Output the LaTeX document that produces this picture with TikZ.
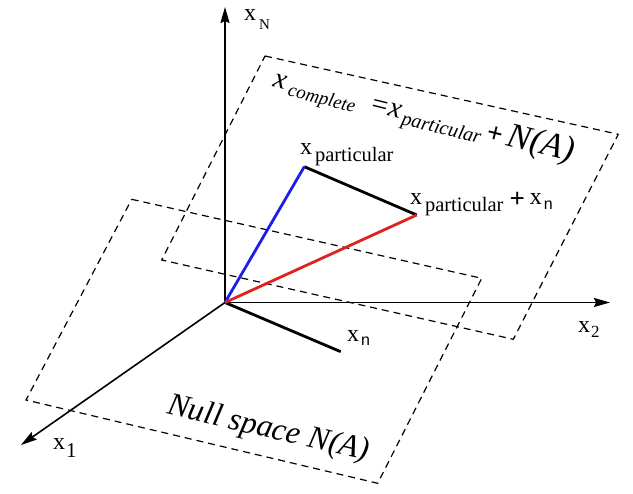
\documentclass[tikz,border=0pt]{standalone}
\usepackage{fontspec}
\setmainfont{Liberation Serif}
\newfontfamily\serf{Liberation Serif}
\newfontfamily\sansf{Liberation Sans}
\usetikzlibrary{arrows.meta}
\definecolor{vblue}{RGB}{30,30,235}
\definecolor{vred}{RGB}{220,35,30}
\newcommand\fs[1]{\fontsize{#1}{#1}\selectfont}
\begin{document}
\begin{tikzpicture}[x=1pt,y=-1pt,
  axis/.style={line width=1.6pt,-{Stealth[length=16pt,width=9pt,inset=2pt]}},
  plane/.style={line width=1.2pt,dash pattern=on 7pt off 5pt,line join=miter},
  vec/.style={line width=2.8pt},
  lab/.style={anchor=base west,inner sep=0pt,outer sep=0pt,font=\serf}]
\useasboundingbox (0,0) rectangle (633,494);
% origin and axis tips
\coordinate (O) at (225,302.5);
\coordinate (tN) at (225,7);
\coordinate (t2) at (610,302.5);
\coordinate (t1) at (21,445);
% null space plane
\coordinate (A) at (131.7,199.3);
\coordinate (B) at (481.7,278.3);
\coordinate (C) at (377.7,483.3);
\coordinate (D) at (26,400);
% shifted plane
\coordinate (E) at (265,56);
\coordinate (F) at (618.3,134.3);
\coordinate (G) at (513.3,339.3);
\coordinate (H) at (161.7,260);
% vectors
\coordinate (P) at (304.3,166.7);
\coordinate (Q) at (416.7,215);
\coordinate (Nn) at (340.7,351.7);
\draw[plane] (A) -- (B) -- (C) -- (D) -- cycle;
\draw[plane] (E) -- (F) -- (G) -- (H) -- cycle;
\draw[axis] (O) -- (tN);
\draw[axis] (O) -- (t2);
\draw[axis] (O) -- (t1);
\draw[vec] (O) -- (Nn);
\draw[vec] (P) -- (Q);
\draw[vec,vblue] (O) -- (P);
\draw[vec,vred] (O) -- (Q);
% labels
\node[lab] (xN) at (244,21) {\fs{24}x\kern3pt\raisebox{-9pt}{\fs{15}N}};
\node[lab] (xn) at (347,342) {\fs{24}x\kern2pt\raisebox{-4pt}{\sansf\fs{16}n}};
\node[lab] (x1) at (53,450) {\fs{24}x\kern1pt\raisebox{-8pt}{\fs{21}1}};
\node[lab] (x2) at (578,333) {\fs{24}x\kern1pt\raisebox{-5pt}{\fs{17}2}};
\node[lab] (xp) at (300,155) {\fs{24}x\kern3pt\raisebox{-7pt}{\fs{20.5}particular}};
\node[lab] (xpn) at (410,205) {\fs{24}x\kern3pt\raisebox{-7pt}{\fs{20.5}particular}\kern6pt\raisebox{-3pt}{\fs{27}\bfseries +}\kern5pt x\kern2pt\raisebox{-5pt}{\sansf\fs{16}n}};
\node[lab,rotate=-14] (xc) at (272,87) {\itshape\fs{29}x\kern4pt\raisebox{-5pt}{\fs{19}complete}\kern14pt{\fs{29}=}\kern0pt x\kern2pt\raisebox{-5pt}{\fs{20}particular}\kern5pt{\upshape\bfseries\fs{28}+}\kern5pt{\fs{35}N(A)}};
\node[lab,rotate=-13] (ns) at (166,414) {\itshape\fs{32}Null space N(A)};
\end{tikzpicture}
\end{document}
